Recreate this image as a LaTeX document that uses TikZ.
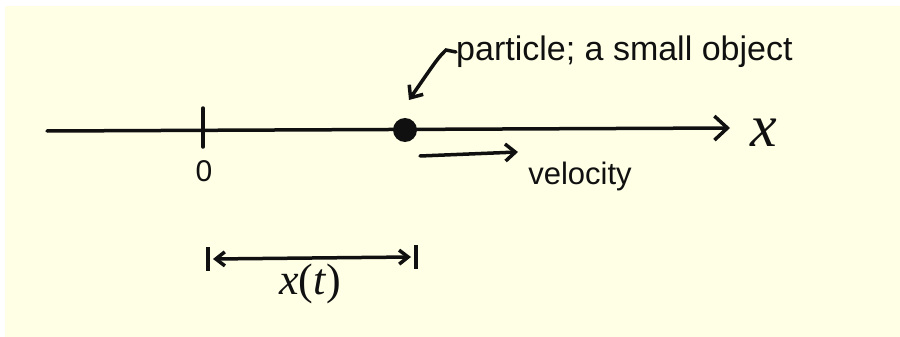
\documentclass[tikz,border=0pt]{standalone}
\usepackage{fontspec}
\setmainfont{Liberation Sans}
\newfontfamily\xfont{Liberation Serif}
\usetikzlibrary{arrows.meta}
\definecolor{paper}{HTML}{FFFFE6}
\definecolor{ink}{HTML}{101010}
\begin{document}
\begin{tikzpicture}[x=1pt,y=-1pt,
  pen/.style={draw=ink,line width=3.5pt,line cap=round},
  openhead/.style={-{Straight Barb[length=13pt,width=24pt,line width=3.5pt]}},
  smallhead/.style={-{Straight Barb[length=10pt,width=17pt,line width=3.5pt]}},
  hand/.style={text=ink,inner sep=0pt},
  dimbar/.style={draw=ink,line width=3.5pt}]
\useasboundingbox (0,0) rectangle (900,337);
\fill[white] (0,0) rectangle (900,337);
\fill[paper] (5,6) rectangle (900,337);
% axis
\coordinate (axL) at (47,131);
\coordinate (axR) at (730,128);
\node[hand,font=\xfont\itshape\fontsize{60}{62}\selectfont] (xlab) at (764,133) {x};
\draw[pen,openhead] (axL) -- (axR);
% tick at origin
\coordinate (tickT) at (203,108);
\coordinate (tickB) at (203,147);
\draw[pen] (tickT) -- (tickB);
\node[hand,font=\fontsize{30}{32}\selectfont] (zero) at (204,171) {0};
% particle
\node[circle,fill=ink,minimum size=24pt,inner sep=0pt] (p) at (405,130) {};
% label and pointer
\node[hand,anchor=west,font=\fontsize{34}{36}\selectfont] (plab) at (456,52) {particle; a small object};
\coordinate (bend) at (446,50);
\draw[pen,smallhead] (plab.west) -- (bend) .. controls (438,58) .. (409,100);
% velocity
\coordinate (vS) at (420,156);
\coordinate (vE) at (518,152);
\draw[pen,smallhead] (vS) -- (vE);
\node[hand,font=\fontsize{31}{33}\selectfont] (vlab) at (580,176) {velocity};
% dimension x(t)
\coordinate (dL1) at (208,247);
\coordinate (dL2) at (208,271);
\coordinate (dR1) at (416,245);
\coordinate (dR2) at (416,269);
\draw[dimbar] (dL1) -- (dL2);
\draw[dimbar] (dR1) -- (dR2);
\coordinate (aL) at (213,259);
\coordinate (aR) at (411,257);
\draw[pen,{Straight Barb[length=9pt,width=14pt,line width=3.5pt]}-{Straight Barb[length=9pt,width=14pt,line width=3.5pt]}] (aL) -- (aR);
\node[hand,font=\xfont\fontsize{44}{46}\selectfont] (xt) at (310,284) {\textit{x}(\textit{t})};
\end{tikzpicture}
\end{document}
